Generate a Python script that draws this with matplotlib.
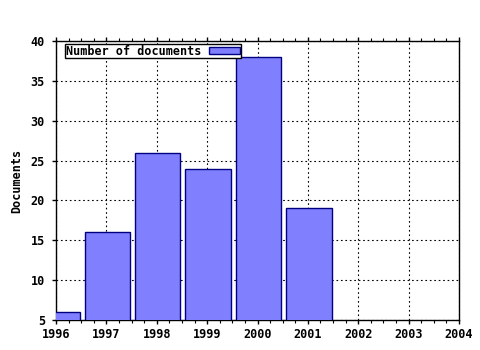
import matplotlib
matplotlib.use("Agg")
import matplotlib.pyplot as plt
from matplotlib.ticker import MultipleLocator

years = [1996, 1997, 1998, 1999, 2000, 2001]
documents = [6, 16, 26, 24, 38, 19]
xticks = [1996, 1997, 1998, 1999, 2000, 2001, 2002, 2003, 2004]
yticks = [5, 10, 15, 20, 25, 30, 35, 40]

plt.rcParams["font.family"] = "DejaVu Sans Mono"
plt.rcParams["font.weight"] = "bold"
plt.rcParams["font.size"] = 8.5

fig = plt.figure(figsize=(4.8, 3.5), dpi=100)
ax = fig.add_axes([56/480, 1-320/350, (459-56)/480, (320-41)/350])
ax.set_axisbelow(True)

ax.bar([y + 0.02 for y in years], documents, width=0.9, color="#8080ff",
       edgecolor="#000080", linewidth=1, label="Number of documents", zorder=3)

ax.set_xlim(1996, 2004)
ax.set_ylim(5, 40)
ax.set_xticks(xticks)
ax.set_yticks(yticks)
ax.xaxis.set_minor_locator(MultipleLocator(0.25))
ax.tick_params(which="both", direction="out", top=True, right=False, colors="black")
ax.tick_params(which="major", length=3, width=1)
ax.tick_params(which="minor", length=2, width=0.8)
ax.tick_params(axis="x", pad=3)
ax.tick_params(axis="y", pad=5)
ax.tick_params(axis="x", labeltop=False)
ax.grid(True, which="major", linestyle=(0, (1.5, 2.5)), color="black", linewidth=0.8)
for s in ax.spines.values():
    s.set_linewidth(1)
ax.set_ylabel("Documents", fontweight="bold", labelpad=5)

leg = ax.legend(loc="upper left", markerfirst=False, fancybox=False, framealpha=1,
                edgecolor="black", borderpad=0.05, handlelength=2.6, handleheight=0.5,
                handletextpad=0.7, borderaxespad=0.25, bbox_to_anchor=(0.015, 1.0))
leg.get_frame().set_linewidth(1)
leg.set_zorder(5)

fig.savefig("out.png", dpi=100)
